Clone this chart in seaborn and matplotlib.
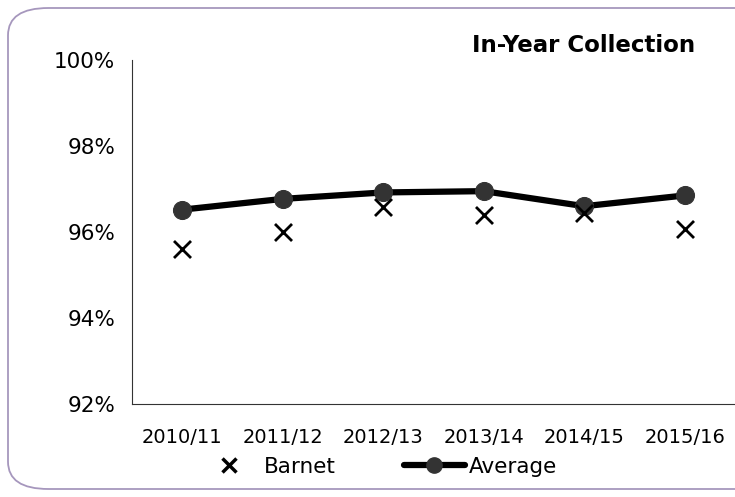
import pandas as pd
import matplotlib
matplotlib.use("Agg")
import matplotlib.pyplot as plt
import seaborn as sns
from matplotlib.patches import FancyBboxPatch
from matplotlib.lines import Line2D
from matplotlib.ticker import FuncFormatter, FixedLocator

# Data
years = ['2010/11', '2011/12', '2012/13', '2013/14', '2014/15', '2015/16']
barnet = [95.6, 96.0, 96.58, 96.4, 96.44, 96.08]
average = [96.52, 96.77, 96.92, 96.95, 96.6, 96.85]

df = pd.DataFrame({'Year': years, 'Barnet': barnet, 'Average': average})
df['pos'] = range(len(years))

sns.set_style('white')
plt.rcParams['font.family'] = ['DejaVu Sans']

fig = plt.figure(figsize=(7.35, 4.97), dpi=100)
ax = fig.add_axes([132/735, 1 - 404/497, 1 - 132/735, (404 - 60)/497])

sns.lineplot(data=df, x='pos', y='Average', ax=ax, color='black', linewidth=4.5,
             marker='o', markersize=13, markerfacecolor='#333333',
             markeredgecolor='#333333', zorder=2)
sns.scatterplot(data=df, x='pos', y='Barnet', ax=ax, marker='x', s=150,
                color='black', linewidth=2, zorder=3)

ax.set_xlim(-0.5, 5.5)
ax.set_ylim(92, 100)
ax.set_yticks([92, 94, 96, 98, 100])
ax.yaxis.set_major_formatter(FuncFormatter(lambda v, p: f'{v:.0f}%'))
ax.set_xticks(range(len(years)))
ax.set_xticklabels(years, fontsize=14)
ax.xaxis.set_minor_locator(FixedLocator([i - 0.5 for i in range(len(years) + 1)]))
ax.tick_params(axis='x', which='major', length=0, pad=17, labelcolor='black')
ax.tick_params(axis='x', which='minor', length=6, color='#888888', direction='out')
ax.tick_params(axis='y', which='major', length=7, color='#888888', direction='out',
               labelsize=15.5, pad=5, labelcolor='black')
ax.set_xlabel('')
ax.set_ylabel('')
for side in ['top', 'right']:
    ax.spines[side].set_visible(False)
ax.spines['left'].set_color('#333333')
ax.spines['bottom'].set_color('#333333')
ax.grid(False)

fig.text(472/735, 1 - 45/497, 'In-Year Collection', fontsize=16.5,
         fontweight='bold', ha='left', va='center', color='black')

handles = [
    Line2D([], [], color='black', marker='x', linestyle='none', markersize=10,
           markeredgewidth=2.5),
    Line2D([], [], color='black', linewidth=4.5, marker='o', markersize=11,
           markerfacecolor='#333333', markeredgecolor='#333333'),
]
fig.legend(handles, ['Barnet', 'Average'], loc='center', ncol=2,
           bbox_to_anchor=(378/735, 1 - 467/497), frameon=False, fontsize=15.5,
           columnspacing=3.2, handlelength=2.8, handletextpad=0.2,
           labelcolor='black')

border = FancyBboxPatch((8/735, 8/497), 1.05, 1 - 16/497,
                        boxstyle='round,pad=0,rounding_size=0.055',
                        transform=fig.transFigure, fill=False,
                        edgecolor='#a697bd', linewidth=1.3, clip_on=False)
fig.patches.append(border)

fig.savefig('out.png', dpi=100)
